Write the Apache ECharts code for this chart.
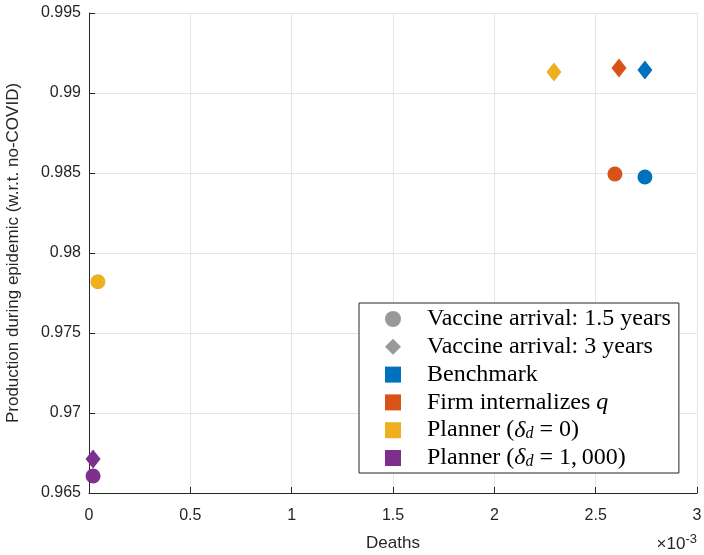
<!DOCTYPE html>
<html>
<head>
<meta charset="utf-8">
<script src="https://cdn.jsdelivr.net/npm/echarts@6/dist/echarts.min.js"></script>
<style>
html, body { margin: 0; padding: 0; background: #fff; }
#chart { width: 704px; height: 555px; }
</style>
</head>
<body>
<div id="chart"></div>
<script>
// deaths are in units of 1e-3 (axis shows x10^-3)
var groups = ['Benchmark', 'Firm internalizes q', 'Planner (δd = 0)', 'Planner (δd = 1,000)'];
var colors = ['#0072BD', '#D95319', '#EDB120', '#7E2F8E'];
var deaths15 = [2.743, 2.595, 0.044, 0.02];      // vaccine at 1.5 years
var prod15 = [0.98475, 0.98494, 0.9782, 0.96606];
var deaths3 = [2.743, 2.615, 2.294, 0.02];       // vaccine at 3 years
var prod3 = [0.99144, 0.99156, 0.99131, 0.96713];
var xTicks = [0, 0.5, 1, 1.5, 2, 2.5, 3];
var yTicks = [0.965, 0.97, 0.975, 0.98, 0.985, 0.99, 0.995];

var legendLabels = {
	'Vaccine arrival: 1.5 years': 'Vaccine arrival: 1.5 years',
	'Vaccine arrival: 3 years': 'Vaccine arrival: 3 years',
	'Benchmark': 'Benchmark',
	'Firm internalizes q': 'Firm internalizes {it|q}',
	'Planner (δd = 0)': 'Planner ({it|δ}{sub|d} = 0)',
	'Planner (δd = 1,000)': 'Planner ({it|δ}{sub|d} = 1,\u2009000)'
};

var chart = echarts.init(document.getElementById('chart'));

var series = [];
// dummy gray series only for the legend (marker shapes)
series.push({ name: 'Vaccine arrival: 1.5 years', type: 'scatter', data: [], itemStyle: { color: '#808080' } });
series.push({ name: 'Vaccine arrival: 3 years', type: 'scatter', data: [], itemStyle: { color: '#808080' } });
groups.forEach(function(g, i) {
	series.push({
		name: g,
		type: 'scatter',
		itemStyle: { color: colors[i], opacity: 1 },
		data: [
			{ value: [deaths15[i], prod15[i]], symbol: 'circle', symbolSize: 15 },
			{ value: [deaths3[i], prod3[i]], symbol: 'diamond', symbolSize: [15, 19] }
		],
		z: 3
	});
});

var legendData = [
	{ name: 'Vaccine arrival: 1.5 years', icon: 'circle' },
	{ name: 'Vaccine arrival: 3 years', icon: 'diamond' }
];
groups.forEach(function(g) {
	legendData.push({ name: g, icon: 'rect' });
});

var option = {
	animation: false,
	grid: { left: 89, top: 13, right: 7, bottom: 62, outerBoundsMode: 'none', containLabel: false },
	xAxis: {
		type: 'value',
		min: 0, max: 3, interval: 0.5,
		name: 'Deaths',
		nameLocation: 'middle',
		nameGap: 42,
		nameTextStyle: { fontFamily: 'Liberation Sans', fontSize: 17, color: '#262626' },
		axisLine: { show: true, onZero: false, lineStyle: { color: '#262626', width: 1 } },
		axisTick: { show: true, inside: true, length: 6, lineStyle: { color: '#262626' } },
		axisLabel: {
			fontFamily: 'Liberation Sans', fontSize: 16, color: '#262626', margin: 15,
			formatter: function(v) { return xTicks.indexOf(v) >= 0 ? String(v) : ''; }
		},
		splitLine: { show: true, lineStyle: { color: '#e5e5e5' } }
	},
	yAxis: {
		type: 'value',
		min: 0.965, max: 0.995, interval: 0.005,
		name: 'Production during epidemic (w.r.t. no-COVID)',
		nameLocation: 'middle',
		nameGap: 67,
		nameTextStyle: { fontFamily: 'Liberation Sans', fontSize: 17, color: '#262626' },
		axisLine: { show: true, lineStyle: { color: '#262626', width: 1 } },
		axisTick: { show: true, inside: true, length: 6, lineStyle: { color: '#262626' } },
		axisLabel: {
			fontFamily: 'Liberation Sans', fontSize: 16, color: '#262626', margin: 8,
			formatter: function(v) {
				var t = yTicks.filter(function(k) { return Math.abs(k - v) < 1e-6; });
				return t.length ? String(+t[0].toFixed(3)) : '';
			}
		},
		splitLine: { show: true, lineStyle: { color: '#e5e5e5' } }
	},
	legend: {
		orient: 'vertical',
		left: 359, top: 303,
		data: legendData,
		itemWidth: 16, itemHeight: 16,
		itemGap: 3.8,
		padding: [4, 8, 3, 26],
		backgroundColor: '#fff',
		borderColor: '#262626',
		borderWidth: 1,
		borderRadius: 0,
		selectedMode: false,
		formatter: function(name) { return legendLabels[name]; },
		textStyle: {
			fontFamily: 'Liberation Serif', fontSize: 24, color: '#000',
			padding: [0, 0, 0, 21],
			rich: {
				it: { fontFamily: 'Liberation Serif', fontStyle: 'italic', fontSize: 24 },
				sub: { fontFamily: 'Liberation Serif', fontStyle: 'italic', fontSize: 16, verticalAlign: 'bottom' }
			}
		}
	},
	graphic: [{
		type: 'text',
		right: 7, top: 533,
		style: {
			text: '×10{sup|-3}',
			fontFamily: 'Liberation Sans', fontSize: 17, fill: '#262626',
			rich: { sup: { fontSize: 13, verticalAlign: 'top', padding: [0, 0, 9, 0] } }
		}
	}],
	series: series
};
chart.setOption(option);
</script>
</body>
</html>
